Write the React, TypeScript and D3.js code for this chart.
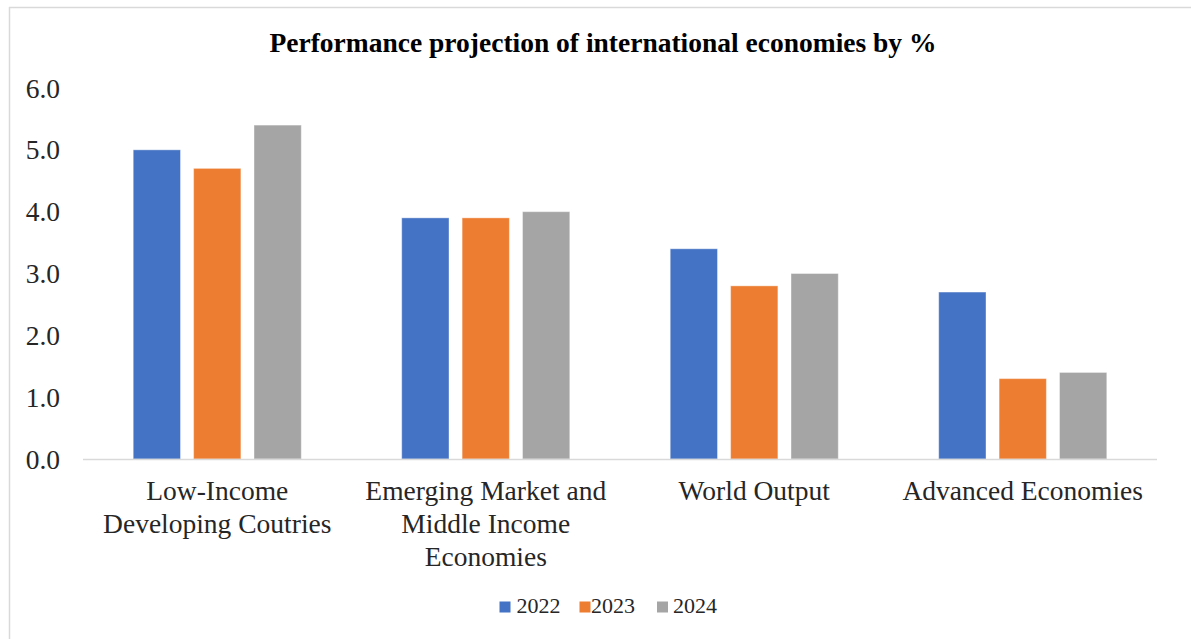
import React from "react";
import * as d3 from "d3";

const categories: string[][] = [
  ["Low-Income", "Developing Coutries"],
  ["Emerging Market and", "Middle Income", "Economies"],
  ["World Output"],
  ["Advanced Economies"],
];
const categoryKeys = ["LIC", "EMME", "World", "Adv"];
const seriesNames = ["2022", "2023", "2024"];
const values2022 = [5.0, 3.9, 3.4, 2.7];
const values2023 = [4.7, 3.9, 2.8, 1.3];
const values2024 = [5.4, 4.0, 3.0, 1.4];
const yTicks = [0, 1, 2, 3, 4, 5, 6];
const colors = ["#4472C4", "#ED7D31", "#A5A5A5"];
const title = "Performance projection of international economies by %";

const W = 1191;
const H = 639;
const FONT = "Liberation Serif, Times New Roman, DejaVu Serif, serif";

export default function App() {
  const series = [values2022, values2023, values2024];
  const x0 = d3
    .scaleBand<string>()
    .domain(categoryKeys)
    .range([83, 1157])
    .paddingInner(0.374)
    .paddingOuter(0.187);
  const x1 = d3
    .scaleBand<string>()
    .domain(seriesNames)
    .range([0, x0.bandwidth()])
    .paddingInner(0.217);
  const y = d3.scaleLinear().domain([0, 6]).range([459, 88]);
  const fmt = d3.format(".1f");

  const legendSq = [499.5, 579.5, 657];
  const legendTx = [516.5, 591, 673];
  const ts = { fontFamily: FONT };

  return (
    <svg
      width={W}
      height={H}
      style={{ position: "absolute", left: 0, top: 0, background: "#fff", fontFamily: FONT }}
    >
      <rect x={0} y={0} width={W} height={H} fill="#fff" />
      <line x1={9.5} y1={7} x2={9.5} y2={H} stroke="#d9d9d9" strokeWidth={1.5} />
      <line x1={9} y1={7.5} x2={W} y2={7.5} stroke="#d9d9d9" strokeWidth={1.5} />
      <text x={603} y={52} textAnchor="middle" fontWeight="bold" fontSize={27.5} fill="#000" style={ts}>
        {title}
      </text>
      {yTicks.map((t) => (
        <text key={t} x={60} y={y(t)} dy="0.35em" textAnchor="end" fontSize={27.5} fill="#262626" style={ts}>
          {fmt(t)}
        </text>
      ))}
      {categoryKeys.map((k, ci) =>
        series.map((vals, si) => {
          const xb = (x0(k) ?? 0) + (x1(seriesNames[si]) ?? 0);
          return (
            <rect
              key={k + si}
              x={xb}
              y={y(vals[ci])}
              width={x1.bandwidth()}
              height={y(0) - y(vals[ci])}
              fill={colors[si]}
              stroke="#fff"
              strokeOpacity={0.4}
              strokeWidth={1}
            />
          );
        })
      )}
      <line x1={83} y1={459.5} x2={1157} y2={459.5} stroke="#d9d9d9" strokeWidth={1.5} />
      {categoryKeys.map((k, ci) => (
        <text
          key={k}
          x={(x0(k) ?? 0) + x0.bandwidth() / 2}
          y={500}
          textAnchor="middle"
          fontSize={27.5}
          fill="#262626"
          style={ts}
        >
          {categories[ci].map((line, li) => (
            <tspan key={li} x={(x0(k) ?? 0) + x0.bandwidth() / 2} dy={li === 0 ? 0 : 33}>
              {line}
            </tspan>
          ))}
        </text>
      ))}
      {seriesNames.map((s, si) => (
        <g key={s}>
          <rect x={legendSq[si]} y={601.5} width={11} height={11} fill={colors[si]} />
          <text x={legendTx[si]} y={613} fontSize={22} fill="#262626" style={ts}>
            {s}
          </text>
        </g>
      ))}
    </svg>
  );
}
